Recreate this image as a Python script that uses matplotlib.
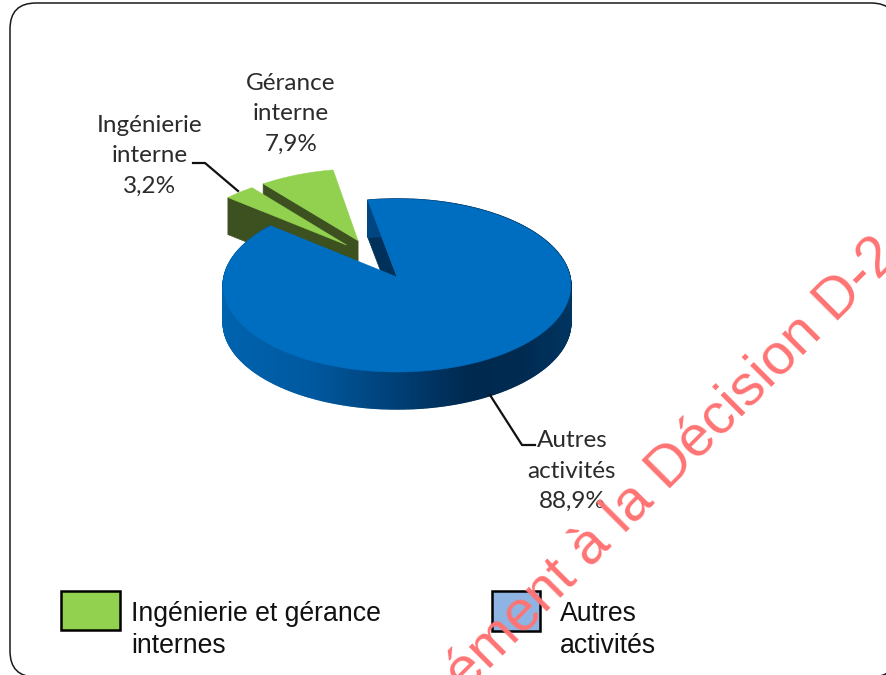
import numpy as np
import matplotlib
matplotlib.use("Agg")
import matplotlib.pyplot as plt
from matplotlib.colors import LinearSegmentedColormap
from matplotlib.patches import FancyBboxPatch, Rectangle

# Valeurs du graphique
slice_names = ["Autres\nactivités", "Ingénierie\ninterne", "Gérance\ninterne"]
slice_values = [88.9, 3.2, 7.9]
slice_explode = [0.0, 0.49, 0.5]
slice_explode_dir = [0.0, -38.0, -28.0]
slice_labels = ["88,9%", "3,2%", "7,9%"]
legend_labels = ["Ingénierie et gérance\ninternes", "Autres\nactivités"]

# Géométrie de la perspective (pixels de l'image)
CX, CY = 397, 277
RX, RY = 173, 85.7
PERSP = 0.098
DEPTH = 37
START = -10.7

BLUE = "#006ec0"
GREEN = "#92d14f"
GREEN_DARK = "#3d5120"
side_cmap = LinearSegmentedColormap.from_list(
    "side",
    [(0, "#0063ae"), (0.25, "#0059a0"), (0.5, "#003f75"),
     (0.7, "#00294f"), (0.85, "#002a50"), (1, "#003561")],
)


def project(u, v):
    w = 1 + PERSP * v
    return CX + RX * u / w, CY - RY * v / w


def slice_points(a0, a1, explode, direction):
    d = np.radians(direction)
    ox, oy = explode * np.sin(d), explode * np.cos(d)
    t = np.radians(np.linspace(a0, a1, max(int(abs(a1 - a0) * 2), 12)))
    xs, ys = project(ox + np.sin(t), oy + np.cos(t))
    ax_, ay_ = project(ox, oy)
    return xs, ys, ax_, ay_


fig = plt.figure(figsize=(8.87, 6.75), dpi=100)
ax = fig.add_axes([0, 0, 1, 1])
ax.set_xlim(0, 887)
ax.set_ylim(675, 0)
ax.axis("off")

ax.add_patch(FancyBboxPatch((35, 28), 837, 624, boxstyle="round,pad=25,rounding_size=26",
                            fc="white", ec="#1a1a1a", lw=1.1, zorder=0))

# angles des tranches, sens horaire depuis le haut
edges = START + np.cumsum([0] + slice_values) * 3.6
colors = [BLUE, GREEN, GREEN]
z = {0: 6, 1: 4, 2: 2}

for i in range(len(slice_values)):
    xs, ys, px, py = slice_points(edges[i], edges[i + 1], slice_explode[i], slice_explode_dir[i])
    zo = z[i]
    if i == 0:
        # paroi radiale visible puis bord extérieur en dégradé
        ax.fill([xs[0], px, px, xs[0]], [ys[0], py, py + DEPTH, ys[0] + DEPTH],
                color="#00315a", lw=0.5, zorder=zo)
        for k in range(len(xs) - 1):
            frac = ((xs[k] + xs[k + 1]) / 2 - xs.min()) / (xs.max() - xs.min())
            c = side_cmap(frac)
            ax.fill([xs[k], xs[k + 1], xs[k + 1], xs[k]],
                    [ys[k], ys[k + 1], ys[k + 1] + DEPTH, ys[k] + DEPTH],
                    color=c, lw=1.0, zorder=zo)
    else:
        ax.fill([xs[0], px, px, xs[0]], [ys[0], py, py + DEPTH, ys[0] + DEPTH],
                color=GREEN_DARK, lw=0.5, zorder=zo)
    ax.fill(np.r_[px, xs], np.r_[py, ys], color=colors[i], lw=0.3, zorder=zo + 0.5)

# étiquettes
LABEL_FONT = "Lato"
TXT = "#2b2b2b"
label_pos = [(572, 471), (150, 156), (291, 114)]
for name, lab, (x, y) in zip(slice_names, slice_labels, label_pos):
    ax.text(x, y, name + "\n" + lab, ha="center", va="center", fontsize=17.5,
            family=LABEL_FONT, color=TXT, linespacing=1.54, zorder=8)

# lignes de rappel
ax.plot([193, 205, 238], [163, 163, 191], color="#111111", lw=1.6, zorder=7)
ax.plot([490, 522, 535], [395, 445, 445], color="#111111", lw=1.6, zorder=7)

# légende
ax.add_patch(Rectangle((61, 591), 59, 39, fc="#92d14f", ec="black", lw=1.8, zorder=8))
ax.add_patch(Rectangle((492, 591), 48, 40, fc="#8db4e2", ec="black", lw=1.8, zorder=8))
ax.text(131, 630, legend_labels[0], ha="left", va="center", fontsize=19.2,
        family="Liberation Sans", color="#111111", linespacing=1.26, zorder=8)
ax.text(560, 630, legend_labels[1], ha="left", va="center", fontsize=19.2,
        family="Liberation Sans", color="#111111", linespacing=1.26, zorder=8)

# filigrane
ax.text(673, 465, "ément à la Décision D-2", ha="center", va="center", rotation=45,
        rotation_mode="anchor", fontsize=41.5, family="Liberation Sans",
        color="#ff7373", zorder=10)

fig.savefig("out.png", dpi=100)
